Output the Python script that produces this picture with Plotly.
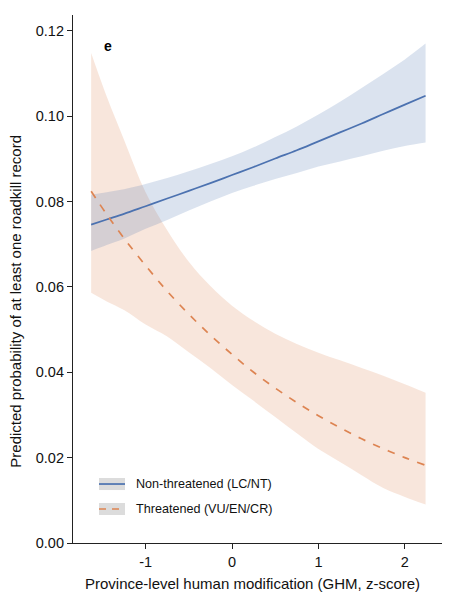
import plotly.graph_objects as go

# GHM z-score grid
ghm = [-1.63, -1.45, -1.25, -1.0, -0.75, -0.5, -0.25, 0.0, 0.25, 0.5, 0.75,
       1.0, 1.25, 1.5, 1.75, 2.0, 2.24]

# Non-threatened (LC/NT)
nt_mean = [0.0746, 0.0758, 0.0771, 0.0789, 0.0807, 0.0825, 0.0843, 0.0862, 0.0881,
           0.0901, 0.0920, 0.0941, 0.0962, 0.0983, 0.1005, 0.1027, 0.1048]
nt_upper = [0.0816, 0.0822, 0.0829, 0.0841, 0.0855, 0.0871, 0.0888, 0.0906, 0.0927,
            0.0951, 0.0976, 0.1004, 0.1034, 0.1066, 0.1099, 0.1133, 0.1170]
nt_lower = [0.0684, 0.0698, 0.0713, 0.0736, 0.0757, 0.0779, 0.0800, 0.0820, 0.0837,
            0.0853, 0.0867, 0.0882, 0.0894, 0.0906, 0.0919, 0.0930, 0.0938]

# Threatened (VU/EN/CR)
th_mean = [0.0824, 0.0770, 0.0714, 0.0650, 0.0590, 0.0536, 0.0487, 0.0442, 0.0400,
           0.0363, 0.0329, 0.0298, 0.0270, 0.0244, 0.0221, 0.0200, 0.0182]
th_upper = [0.1148, 0.1046, 0.0945, 0.0822, 0.0733, 0.0659, 0.0602, 0.0556, 0.0520,
            0.0490, 0.0466, 0.0446, 0.0428, 0.0410, 0.0392, 0.0372, 0.0352]
th_lower = [0.0586, 0.0566, 0.0546, 0.0512, 0.0484, 0.0447, 0.0410, 0.0370, 0.0333,
            0.0295, 0.0257, 0.0220, 0.0190, 0.0159, 0.0129, 0.0108, 0.0090]

series_names = ["Non-threatened (LC/NT)", "Threatened (VU/EN/CR)"]
y_ticks = [0.00, 0.02, 0.04, 0.06, 0.08, 0.10, 0.12]
y_ticktext = ["0.00", "0.02", "0.04", "0.06", "0.08", "0.10", "0.12"]
x_ticks = [-1, 0, 1, 2]
x_ticktext = ["-1", "0", "1", "2"]

BLUE = "#4C72B0"
ORANGE = "#DD8452"
BLUE_FILL = "rgba(76,114,176,0.2)"
ORANGE_FILL = "rgba(221,132,82,0.2)"
FONT = "Liberation Sans, Arial, sans-serif"

fig = go.Figure()

# bands (lower bound, then upper bound filled down to it)
for lo, hi, fc in [(th_lower, th_upper, ORANGE_FILL), (nt_lower, nt_upper, BLUE_FILL)]:
    fig.add_trace(go.Scatter(x=ghm, y=lo, mode="lines",
                             line=dict(width=0, shape="spline", color=fc),
                             hoverinfo="skip", showlegend=False))
    fig.add_trace(go.Scatter(x=ghm, y=hi, mode="lines", fill="tonexty",
                             fillcolor=fc,
                             line=dict(width=0, shape="spline", color=fc),
                             hoverinfo="skip", showlegend=False))
# lines
fig.add_trace(go.Scatter(x=ghm, y=nt_mean, mode="lines", name=series_names[0],
                         line=dict(color=BLUE, width=1.7, shape="spline"),
                         showlegend=False))
fig.add_trace(go.Scatter(x=ghm, y=th_mean, mode="lines", name=series_names[1],
                         line=dict(color=ORANGE, width=1.7, dash="7.5px,8.5px",
                                   shape="spline"),
                         showlegend=False))

axis_common = dict(showgrid=False, zeroline=False, showline=True,
                   linecolor="#222222", linewidth=1.2, ticks="outside",
                   ticklen=5, tickwidth=1.2, tickcolor="#222222",
                   tickfont=dict(family=FONT, size=14.5, color="#111111"))

fig.update_xaxes(range=[-1.84, 2.43], tickvals=x_ticks, ticktext=x_ticktext,
                 **axis_common)
fig.update_yaxes(range=[0, 0.1237], tickvals=y_ticks, ticktext=y_ticktext,
                 **axis_common)

# manual legend (grey patches with line samples)
shapes = []
annotations = []
rows = [(0.1117, BLUE, "solid", series_names[0]),
        (0.0644, ORANGE, "7px,6px", series_names[1])]
for yc, col, dash, label in rows:
    shapes.append(dict(type="rect", xref="paper", yref="paper",
                       x0=0.0705, x1=0.1409, y0=yc - 0.0114, y1=yc + 0.0114,
                       fillcolor="#dcdcdc", line=dict(width=0), layer="above"))
    shapes.append(dict(type="line", xref="paper", yref="paper",
                       x0=0.0705, x1=0.1409, y0=yc, y1=yc,
                       line=dict(color=col, width=1.7, dash=dash), layer="above"))
    annotations.append(dict(text=label, xref="paper", yref="paper",
                            x=0.1653, y=yc, xanchor="left", yanchor="middle",
                            showarrow=False,
                            font=dict(family=FONT, size=12.6, color="#111111")))

# axis titles
annotations.append(dict(text="Province-level human modification (GHM, z-score)",
                        xref="paper", yref="paper", x=0.4865, y=-0.0758,
                        xanchor="center", yanchor="middle", showarrow=False,
                        font=dict(family=FONT, size=15, color="#111111")))
annotations.append(dict(text="Predicted probability of at least one roadkill record",
                        xref="paper", yref="paper", x=-0.1558, y=0.458,
                        xanchor="center", yanchor="middle", textangle=-90,
                        showarrow=False,
                        font=dict(family=FONT, size=15, color="#111111")))
# panel label
annotations.append(dict(text="<b>e</b>", xref="paper", yref="paper",
                        x=0.0962, y=0.942, xanchor="center", yanchor="middle",
                        showarrow=False,
                        font=dict(family=FONT, size=14, color="#000000")))

# page body adds an 8px offset, so margins are shifted to compensate
fig.update_layout(width=469, height=606,
                  margin=dict(l=65, r=35, t=7, b=71),
                  paper_bgcolor="white", plot_bgcolor="white",
                  shapes=shapes, annotations=annotations,
                  font=dict(family=FONT))

fig.write_html("out.html")
